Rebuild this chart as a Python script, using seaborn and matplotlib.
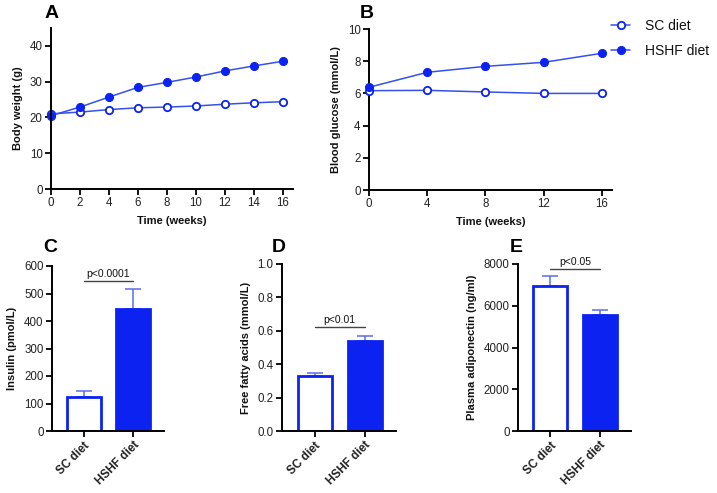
import numpy as np
import pandas as pd
import matplotlib
matplotlib.use("Agg")
import matplotlib.pyplot as plt
import seaborn as sns

sns.set_theme(style="ticks")
plt.rcParams['font.family'] = ['Liberation Sans', 'DejaVu Sans']
plt.rcParams['text.color'] = '#111111'
plt.rcParams['axes.labelcolor'] = '#111111'
plt.rcParams['xtick.labelcolor'] = '#222222'
plt.rcParams['ytick.labelcolor'] = '#222222'

# ---- data ----
weeks_bw = [0, 2, 4, 6, 8, 10, 12, 14, 16]
bw_sc = [21.0, 21.5, 22.2, 22.7, 22.9, 23.2, 23.7, 24.1, 24.4]
bw_hshf = [20.5, 22.9, 25.7, 28.4, 29.8, 31.3, 33.0, 34.4, 35.7]

weeks_bg = [0, 4, 8, 12, 16]
bg_sc = [6.17, 6.19, 6.09, 6.00, 6.00]
bg_sc_err = [0.08, 0.10, 0.06, 0.05, 0.05]
bg_hshf = [6.38, 7.31, 7.68, 7.93, 8.49]
bg_hshf_err = [0.10, 0.10, 0.15, 0.15, 0.08]

groups = ["SC diet", "HSHF diet"]
insulin = [122, 443]
insulin_err = [23, 72]
ffa = [0.33, 0.54]
ffa_err = [0.02, 0.03]
adipo = [6970, 5550]
adipo_err = [450, 250]

BLUE = "#0b22f0"
LINE = "#3550ec"
ERR = "#5a6cf0"

W, H = 717, 493
fig = plt.figure(figsize=(W / 100, H / 100), dpi=100)

def add_ax(l, r, t, b):
    return fig.add_axes([l / W, 1 - b / H, (r - l) / W, (b - t) / H])

def style(ax):
    sns.despine(ax=ax)
    for s in ("left", "bottom"):
        ax.spines[s].set_linewidth(1.4)
        ax.spines[s].set_color("black")
    ax.tick_params(axis="both", direction="out", length=4, width=1.3,
                   labelsize=8.3, pad=2, color="black")

lab_kw = dict(fontsize=8, fontweight="bold")

# ---- Panel A ----
axA = add_ax(51, 293, 28, 189)
dfA = pd.DataFrame({"week": weeks_bw * 2,
                    "val": bw_sc + bw_hshf,
                    "diet": ["SC diet"] * 9 + ["HSHF diet"] * 9})
sns.lineplot(data=dfA[dfA.diet == "SC diet"], x="week", y="val", ax=axA,
             color=LINE, lw=1.1, marker="o", markersize=5.3,
             markerfacecolor="white", markeredgecolor=BLUE, markeredgewidth=1.3)
sns.lineplot(data=dfA[dfA.diet == "HSHF diet"], x="week", y="val", ax=axA,
             color=LINE, lw=1.1, marker="o", markersize=5.8,
             markerfacecolor=BLUE, markeredgecolor=BLUE)
axA.set_xlim(0, 16.7)
axA.set_ylim(0, 45)
axA.set_xticks(range(0, 17, 2))
axA.set_yticks([0, 10, 20, 30, 40])
axA.set_xlabel("Time (weeks)", labelpad=5, **lab_kw)
axA.set_ylabel("Body weight (g)", labelpad=5, **lab_kw)
for ln in axA.lines:
    ln.set_clip_on(False)
style(axA)

# ---- Panel B ----
axB = add_ax(369, 612, 29, 190)
axB.errorbar(weeks_bg, bg_sc, yerr=bg_sc_err, fmt="none", ecolor=BLUE,
             elinewidth=1, capsize=2.5, zorder=2)
axB.errorbar(weeks_bg, bg_hshf, yerr=bg_hshf_err, fmt="none", ecolor=BLUE,
             elinewidth=1, capsize=2.5, zorder=2)
dfB = pd.DataFrame({"week": weeks_bg * 2,
                    "val": bg_sc + bg_hshf,
                    "diet": ["SC diet"] * 5 + ["HSHF diet"] * 5})
sns.lineplot(data=dfB[dfB.diet == "SC diet"], x="week", y="val", ax=axB,
             color=LINE, lw=1.1, marker="o", markersize=5.3,
             markerfacecolor="white", markeredgecolor=BLUE, markeredgewidth=1.3,
             label="SC diet", zorder=3)
sns.lineplot(data=dfB[dfB.diet == "HSHF diet"], x="week", y="val", ax=axB,
             color=LINE, lw=1.1, marker="o", markersize=5.8,
             markerfacecolor=BLUE, markeredgecolor=BLUE,
             label="HSHF diet", zorder=3)
axB.set_xlim(0, 16.7)
axB.set_ylim(0, 10)
axB.set_xticks([0, 4, 8, 12, 16])
axB.set_yticks([0, 2, 4, 6, 8, 10])
axB.set_xlabel("Time (weeks)", labelpad=5, **lab_kw)
axB.set_ylabel("Blood glucose (mmol/L)", labelpad=5, **lab_kw)
for ln in axB.lines:
    ln.set_clip_on(False)
style(axB)
leg = axB.legend(loc="upper left", bbox_to_anchor=(0.975, 1.095), frameon=False,
                 fontsize=10, handlelength=1.3, handletextpad=1.1,
                 labelspacing=0.75, borderaxespad=0)

# ---- bar panels ----
def bar_panel(ax, vals, errs, ylim, yticks, ylabel, ptext, py, tfmt=None):
    df = pd.DataFrame({"group": groups, "val": vals})
    sns.barplot(data=df, x="group", y="val", ax=ax, width=0.68, saturation=1,
                errorbar=None, color=BLUE, linewidth=2, edgecolor=BLUE, zorder=2)
    ax.patches[0].set_facecolor("white")
    ax.patches[1].set_facecolor(BLUE)
    ax.errorbar([0, 1], vals, yerr=[[0, 0], errs], fmt="none", ecolor=ERR,
                elinewidth=1.1, capsize=6, capthick=1.1, zorder=1)
    ax.set_xlim(-0.65, 1.63)
    ax.set_ylim(*ylim)
    ax.set_yticks(yticks)
    if tfmt:
        ax.set_yticklabels([tfmt.format(t) for t in yticks])
    ax.set_xlabel("")
    ax.set_ylabel(ylabel, labelpad=5, **lab_kw)
    ax.plot([0, 1], [py, py], color="#444444", lw=1.0, clip_on=False)
    ax.text(0.5, py + (ylim[1] - ylim[0]) * 0.015, ptext, ha="center",
            va="bottom", fontsize=7.5)
    style(ax)
    ax.tick_params(axis="x", labelsize=8.5)
    for lbl in ax.get_xticklabels():
        lbl.set_rotation(45)
        lbl.set_ha("right")
        lbl.set_rotation_mode("anchor")
        lbl.set_fontweight("bold")

axC = add_ax(52, 164, 266, 431)
bar_panel(axC, insulin, insulin_err, (0, 600), [0, 100, 200, 300, 400, 500, 600],
          "Insulin (pmol/L)", "p<0.0001", 545)

axD = add_ax(282, 396, 264, 431)
bar_panel(axD, ffa, ffa_err, (0, 1.0), [0, 0.2, 0.4, 0.6, 0.8, 1.0],
          "Free fatty acids (mmol/L)", "p<0.01", 0.62, tfmt="{:.1f}")

axE = add_ax(518, 631, 264, 431)
bar_panel(axE, adipo, adipo_err, (0, 8000), [0, 2000, 4000, 6000, 8000],
          "Plasma adiponectin (ng/ml)", "p<0.05", 7760)

# ---- panel letters ----
for x, y, s in [(45, 13, "A"), (360, 13, "B"), (43, 248, "C"),
                (272, 248, "D"), (510, 248, "E")]:
    fig.text(x / W, 1 - y / H, s, fontsize=14, fontweight="bold",
             ha="left", va="center", color="black")

fig.savefig("out.png", dpi=100)
